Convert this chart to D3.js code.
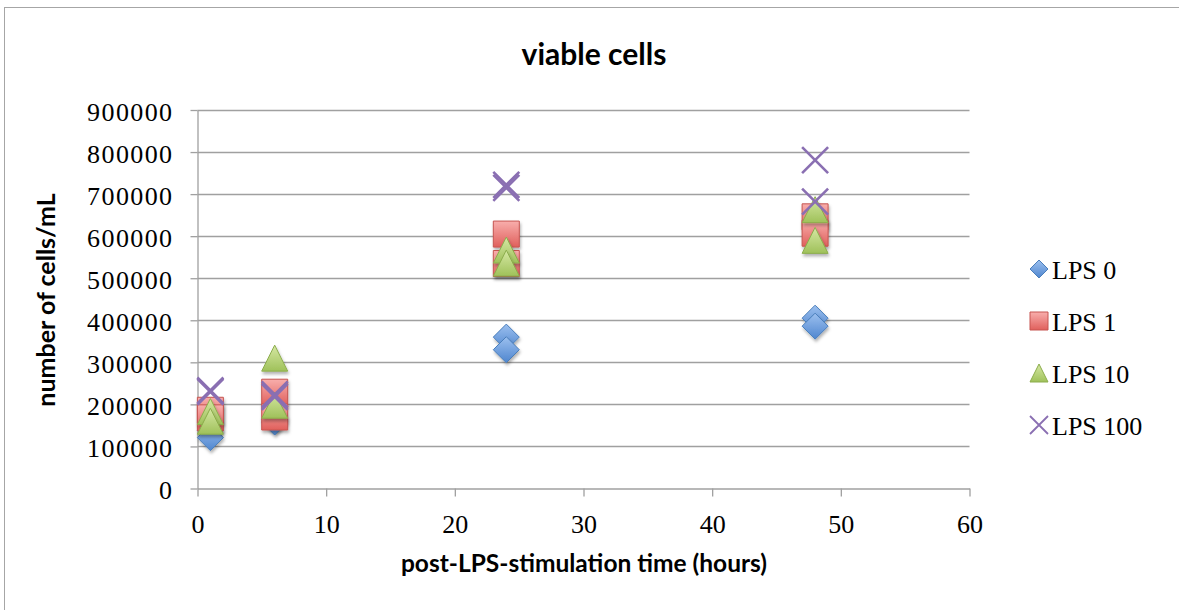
<!DOCTYPE html>
<html>
<head>
<meta charset="utf-8">
<script src="https://cdn.jsdelivr.net/npm/d3@7"></script>
<style>
  body { margin: 0; background: #fff; }
  svg { display: block; }
</style>
</head>
<body>
<div id="chart"></div>
<script>
// data (two replicates per LPS dose)
const hours = [1, 6, 24, 48];
const seriesNames = ["LPS 0", "LPS 1", "LPS 10", "LPS 100"];
const lps0a = [138000, 165000, 360000, 405000];
const lps0b = [121000, 158000, 330000, 386000];
const lps1a = [186000, 229000, 605000, 646000];
const lps1b = [168000, 170000, 535000, 607000];
const lps10a = [183000, 310000, 567000, 663000];
const lps10b = [160000, 198000, 536000, 590000];
const lps100a = [233000, 224000, 722000, 781000];
const lps100b = [230000, 218000, 715000, 682000];
const xTicks = [0, 10, 20, 30, 40, 50, 60];
const yTicks = [0, 100000, 200000, 300000, 400000, 500000, 600000, 700000, 800000, 900000];

const W = 1179, H = 610;
let svg = d3.select('#chart').append('svg')
  .attr('width', W).attr('height', H);

let defs = svg.append('defs');
// soft shadow under markers
defs.append('filter').attr('id', 'shadow')
  .attr('x', '-50%').attr('y', '-50%').attr('width', '200%').attr('height', '200%')
  .append('feDropShadow')
  .attr('dx', 1).attr('dy', 2.5).attr('stdDeviation', 1.6)
  .attr('flood-color', '#000').attr('flood-opacity', 0.3);

function grad(id, top, bottom) {
  let g = defs.append('linearGradient').attr('id', id)
    .attr('x1', 0).attr('y1', 0).attr('x2', 0).attr('y2', 1);
  g.append('stop').attr('offset', '0%').attr('stop-color', top);
  g.append('stop').attr('offset', '100%').attr('stop-color', bottom);
}
grad('gBlue', '#9cc0ef', '#4f86cf');
grad('gRed', '#f8aeac', '#e0605c');
grad('gGreen', '#d6e8a4', '#9fc15a');

// chart frame (runs off the right and bottom edges)
svg.append('rect')
  .attr('x', 4.5).attr('y', 7.5).attr('width', W + 20).attr('height', H + 20)
  .attr('fill', 'none').attr('stroke', '#a6a6a6').attr('stroke-width', 1);

let x = d3.scaleLinear().domain([0, 60]).range([197.5, 969.5]);
let y = d3.scaleLinear().domain([0, 900000]).range([488.5, 110]);

// gridlines
svg.append('g')
  .selectAll('line')
  .data(yTicks.filter(d => d > 0))
  .join('line')
  .attr('x1', x(0)).attr('x2', x(60))
  .attr('y1', d => Math.round(y(d)) + 0.5).attr('y2', d => Math.round(y(d)) + 0.5)
  .attr('stroke', '#a0a0a0').attr('stroke-width', 1.3);

// axes
let yAxis = svg.append('g')
  .attr('transform', 'translate(' + x(0) + ',0)')
  .call(d3.axisLeft(y).tickValues(yTicks).tickSize(7).tickSizeOuter(0).tickPadding(17).tickFormat(d3.format('d')));
let xAxis = svg.append('g')
  .attr('transform', 'translate(0,' + y(0) + ')')
  .call(d3.axisBottom(x).tickValues(xTicks).tickSize(8).tickSizeOuter(0).tickPadding(18));

[yAxis, xAxis].forEach(function(a) {
  a.select('.domain').attr('stroke', '#a0a0a0').attr('stroke-width', 1.3);
  a.selectAll('.tick line').attr('stroke', '#a0a0a0').attr('stroke-width', 1.3);
  a.selectAll('.tick text')
    .attr('fill', '#000')
    .style('font-family', '"Liberation Serif", "Times New Roman", serif')
    .style('font-size', '26px');
});
yAxis.selectAll('.tick text').attr('dy', '0.40em').style('letter-spacing', '1.4px');

// marker shapes, s = half size
const shapes = {
  "LPS 0": s => `M0,${-s}L${s},0L0,${s}L${-s},0Z`,
  "LPS 1": s => `M${-s},${-s}H${s}V${s}H${-s}Z`,
  "LPS 10": s => `M0,${-s}L${s},${s}L${-s},${s}Z`,
  "LPS 100": s => `M${-s},${-s}L${s},${s}M${s},${-s}L${-s},${s}`
};
const fills = { "LPS 0": 'url(#gBlue)', "LPS 1": 'url(#gRed)', "LPS 10": 'url(#gGreen)', "LPS 100": 'none' };
const strokes = { "LPS 0": '#4a7ebb', "LPS 1": '#c65450', "LPS 10": '#8cad4c', "LPS 100": '#8a6fb2' };
const strokeW = { "LPS 0": 1, "LPS 1": 1, "LPS 10": 1, "LPS 100": 2.6 };

const seriesVals = {
  "LPS 0": [lps0a, lps0b],
  "LPS 1": [lps1a, lps1b],
  "LPS 10": [lps10a, lps10b],
  "LPS 100": [lps100a, lps100b]
};

// build point list in drawing order
let points = [];
seriesNames.forEach(function(name) {
  seriesVals[name].forEach(function(rep) {
    rep.forEach(function(v, i) { points.push({ name: name, t: hours[i], v: v }); });
  });
});

svg.append('g')
  .selectAll('path')
  .data(points)
  .join('path')
  .attr('transform', d => 'translate(' + x(d.t) + ',' + y(d.v) + ')')
  .attr('d', d => shapes[d.name](13))
  .attr('fill', d => fills[d.name])
  .attr('stroke', d => strokes[d.name])
  .attr('stroke-width', d => strokeW[d.name])
  .attr('filter', d => d.name === 'LPS 100' ? null : 'url(#shadow)');

// legend
let legend = svg.selectAll('.legend')
  .data(seriesNames)
  .join('g')
  .attr('class', 'legend')
  .attr('transform', (d, i) => 'translate(1039,' + (269 + i * 52) + ')');
legend.append('path')
  .attr('d', d => shapes[d](9))
  .attr('fill', d => fills[d])
  .attr('stroke', d => strokes[d])
  .attr('stroke-width', d => d === 'LPS 100' ? 1.8 : 1);
legend.append('text')
  .attr('x', 13).attr('y', 10)
  .style('font-family', '"Liberation Serif", "Times New Roman", serif')
  .style('font-size', '26px')
  .text(d => d);

// titles
svg.append('text')
  .attr('x', 594).attr('y', 65)
  .attr('text-anchor', 'middle')
  .style('font-family', 'Lato, "Liberation Sans", sans-serif')
  .style('font-weight', 'bold').style('font-size', '30px')
  .text('viable cells');

svg.append('text')
  .attr('x', 584).attr('y', 572)
  .attr('text-anchor', 'middle')
  .style('font-family', 'Lato, "Liberation Sans", sans-serif')
  .style('font-weight', 'bold').style('font-size', '24.5px')
  .text('post-LPS-stimulation time (hours)');

svg.append('g')
  .attr('transform', 'translate(55,300)')
  .append('text')
  .attr('transform', 'rotate(-90)')
  .attr('text-anchor', 'middle')
  .style('font-family', 'Lato, "Liberation Sans", sans-serif')
  .style('font-weight', 'bold').style('font-size', '25px')
  .text('number of cells/mL');
</script>
</body>
</html>
